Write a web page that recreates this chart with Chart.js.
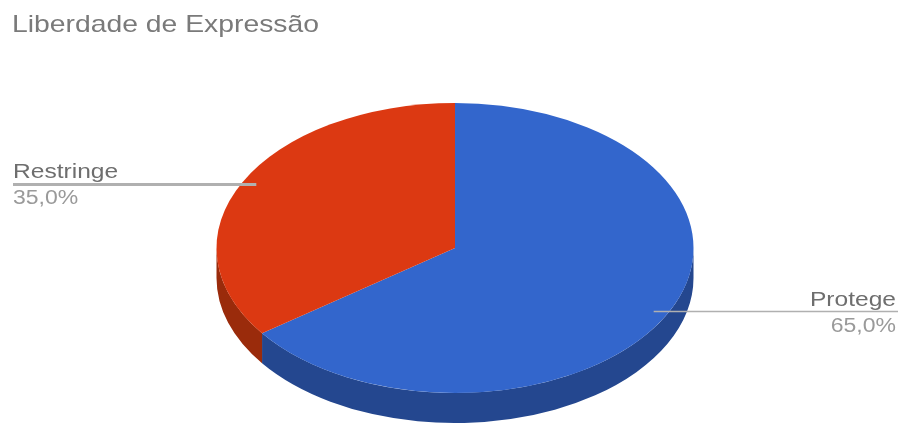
<!DOCTYPE html>
<html>
<head>
<meta charset="utf-8">
<title>Liberdade de Expressão</title>
<script src="https://cdn.jsdelivr.net/npm/chart.js@4"></script>
<style>
  html, body { margin: 0; padding: 0; background: #fff; }
  #wrap { width: 900px; height: 423px; }
</style>
</head>
<body>
<div id="wrap"><canvas id="pie" width="900" height="423"></canvas></div>
<script>
const chartTitle = 'Liberdade de Expressão';
const categories = ['Protege', 'Restringe'];
const shares = [65.0, 35.0];
const valueLabels = ['65,0%', '35,0%'];
const faceColors = ['#3366cc', '#dc3912'];
const wallColors = ['#24478f', '#9a2b0b'];
const leaderWidths = [1.5, 3];

// The pie is laid out as a circle and stretched sideways to look tilted.
const STRETCH_X = 238.5 / 145;
const WALL_DEPTH = 30;
const LEADER_FRACTION_X = 0.935;
const LEADER_FRACTION_Y = 0.965;
const FONT_FAMILY = '"Liberation Sans", Arial, sans-serif';

function stretchAround(ctx, cx, cy) {
  ctx.translate(cx, cy);
  ctx.scale(STRETCH_X, 1);
  ctx.translate(-cx, -cy);
}

// Text in this chart is set slightly wider than its natural proportions.
function wideText(ctx, text, x, y, size, widen, color, align) {
  ctx.save();
  ctx.translate(x, y);
  ctx.scale(widen, 1);
  ctx.font = size + 'px ' + FONT_FAMILY;
  ctx.textAlign = align;
  ctx.textBaseline = 'alphabetic';
  ctx.fillStyle = color;
  ctx.fillText(text, 0, 0);
  ctx.restore();
}

const tiltedPie = {
  id: 'tiltedPie',
  beforeDatasetsDraw(chart) {
    const { ctx } = chart;
    const arcs = chart.getDatasetMeta(0).data;
    ctx.save();
    stretchAround(ctx, arcs[0].x, arcs[0].y);

    // Side wall: only the part of each slice facing the viewer, 0..PI on the canvas.
    arcs.forEach((arc, i) => {
      const from = Math.max(arc.startAngle, 0);
      const to = Math.min(arc.endAngle, Math.PI);
      if (to <= from) return;
      ctx.beginPath();
      ctx.arc(arc.x, arc.y, arc.outerRadius, from, to);
      ctx.arc(arc.x, arc.y + WALL_DEPTH, arc.outerRadius, to, from, true);
      ctx.closePath();
      ctx.fillStyle = wallColors[i];
      ctx.fill();
    });
  },
  afterDatasetsDraw(chart) {
    const { ctx } = chart;
    const arcs = chart.getDatasetMeta(0).data;
    ctx.restore();

    // Leader lines run from inside each slice towards the page edge.
    arcs.forEach((arc, i) => {
      const mid = (arc.startAngle + arc.endAngle) / 2;
      const ax = arc.x + Math.cos(mid) * arc.outerRadius * STRETCH_X * LEADER_FRACTION_X;
      const ay = arc.y + Math.sin(mid) * arc.outerRadius * LEADER_FRACTION_Y;
      const onRight = ax > arc.x;
      const edgeX = onRight ? 898 : 13;
      const textX = onRight ? 896 : 13;
      const align = onRight ? 'right' : 'left';

      ctx.strokeStyle = '#b0b0b0';
      ctx.lineWidth = leaderWidths[i];
      ctx.beginPath();
      ctx.moveTo(ax, ay);
      ctx.lineTo(edgeX, ay);
      ctx.stroke();

      wideText(ctx, categories[i], textX, ay - 6, 21, 1.17, '#6e6e6e', align);
      wideText(ctx, valueLabels[i], textX, ay + 20, 20, 1.15, '#9a9a9a', align);
    });

    wideText(ctx, chartTitle, 12, 32, 24, 1.18, '#7a7a7a', 'left');
  }
};

new Chart(document.getElementById('pie'), {
  type: 'pie',
  data: {
    labels: categories,
    datasets: [{ data: shares, backgroundColor: faceColors, borderWidth: 0 }]
  },
  options: {
    responsive: false,
    animation: false,
    events: [],
    layout: { padding: { top: 103, bottom: 30, left: 10, right: 0 } },
    plugins: { legend: { display: false }, title: { display: false }, tooltip: { enabled: false } }
  },
  plugins: [tiltedPie]
});
</script>
</body>
</html>
